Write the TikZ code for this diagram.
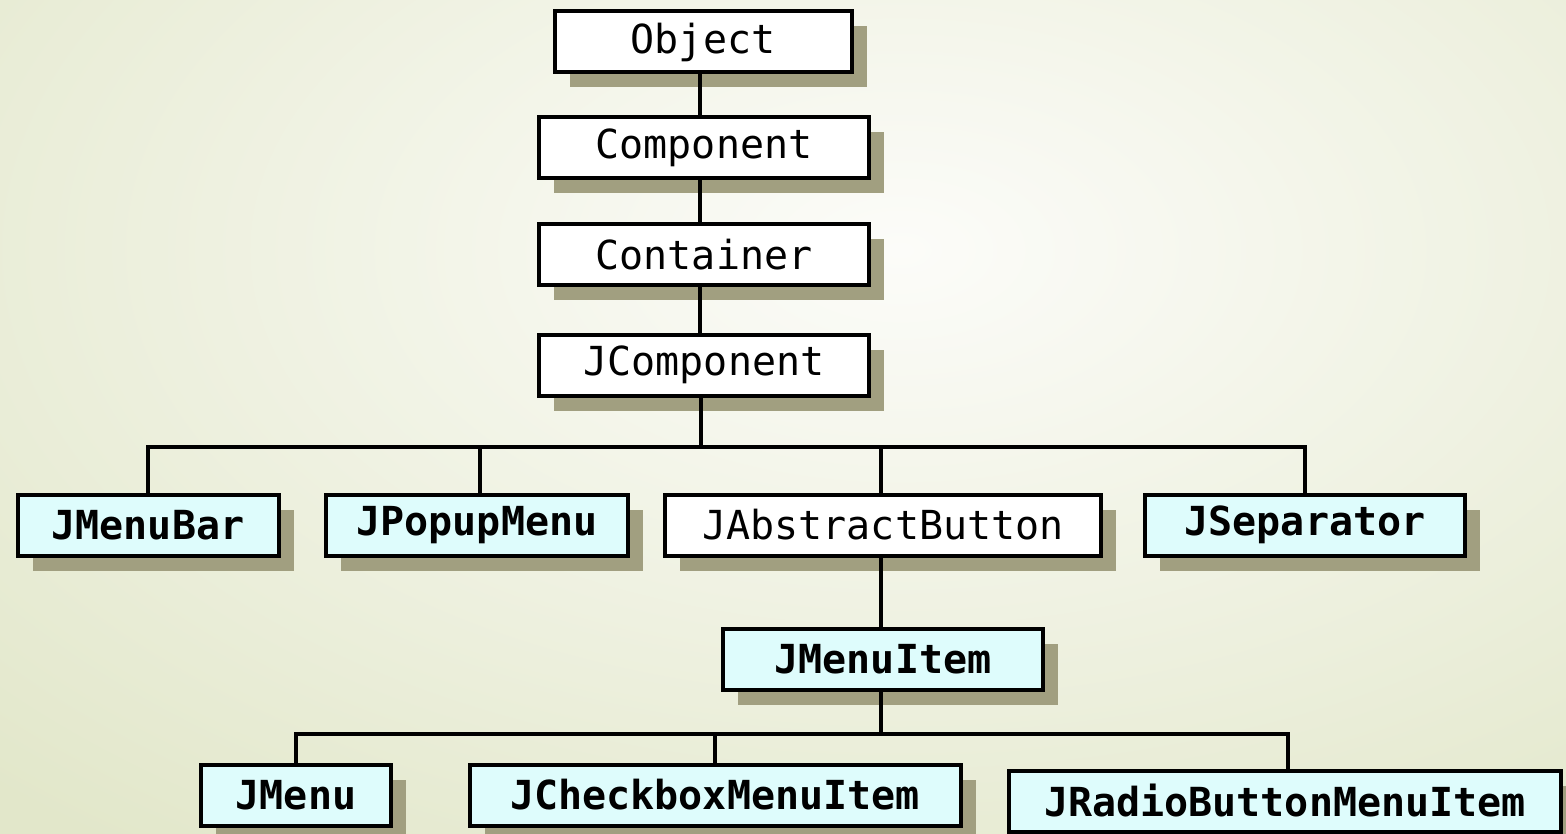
\documentclass[tikz,border=0pt]{standalone}
\usepackage{fontspec}
\setmonofont{DejaVu Sans Mono}
\usetikzlibrary{shadows}
\definecolor{shadowc}{RGB}{161,159,128}
\definecolor{swingfill}{RGB}{222,252,252}
\definecolor{bgout}{RGB}{226,231,202}
\definecolor{bgin}{RGB}{252,252,249}

\begin{document}
\begin{tikzpicture}[x=1pt,y=-1pt,
    cls/.style={draw, line width=4pt, fill=white, inner sep=0pt, minimum height=61pt,
      font=\fontsize{40}{48}\selectfont\ttfamily,
      drop shadow={shadow xshift=15pt, shadow yshift=-15pt, fill=shadowc, opacity=1}},
    swing/.style={cls, fill=swingfill, font=\fontsize{40}{48}\selectfont\ttfamily\bfseries},
    link/.style={line width=4pt, line join=miter}]
    \useasboundingbox (0,0) rectangle (1566,834);
    \begin{scope}
      \clip (0,0) rectangle (1566,834);
      \shade[inner color=bgin, outer color=bgout] (-400,-500) rectangle (2200,1000);
    \end{scope}
    % AWT part
    \node[cls, minimum width=297pt] (obj) at (703,42) {Object};
    \node[cls, minimum width=330pt] (comp) at (704,148) {Component};
    \node[cls, minimum width=330pt] (cont) at (704,255) {Container};
    \node[cls, minimum width=330pt] (jcomp) at (704,365) {JComponent};
    % swing menus
    \node[swing, minimum width=261pt] (bar) at (148,525) {JMenuBar};
    \node[swing, minimum width=302pt] (popup) at (477,525) {JPopupMenu};
    \node[cls, minimum width=436pt] (abstract) at (883,525) {JAbstractButton};
    \node[swing, minimum width=320pt] (sep) at (1305,525) {JSeparator};
    \node[swing, minimum width=320pt] (item) at (883,659) {JMenuItem};
    \node[swing, minimum width=190pt] (menu) at (296,795) {JMenu};
    \node[swing, minimum width=491pt] (check) at (715,795) {JCheckboxMenuItem};
    \node[swing, minimum width=552pt] (radio) at (1285,801) {JRadioButtonMenuItem};
    \coordinate (busA) at (701,447);
    \coordinate (busB) at (881,734);
    \draw[link] ([xshift=-3pt]obj.south) -- ([xshift=-4pt]comp.north);
    \draw[link] ([xshift=-4pt]comp.south) -- ([xshift=-4pt]cont.north);
    \draw[link] ([xshift=-4pt]cont.south) -- ([xshift=-4pt]jcomp.north);
    \draw[link] ([xshift=-3pt]jcomp.south) -- (busA);
    \draw[link] (bar.north) |- (busA) -| (sep.north);
    \draw[link] ([xshift=3pt]popup.north) -- ([xshift=3pt]popup.north |- busA);
    \draw[link] ([xshift=-2pt]abstract.north) -- ([xshift=-2pt]abstract.north |- busA);
    \draw[link] ([xshift=-2pt]abstract.south) -- ([xshift=-2pt]item.north);
    \draw[link] ([xshift=-2pt]item.south) -- (busB);
    \draw[link] (menu.north) |- (busB) -| ([xshift=3pt]radio.north);
    \draw[link] (check.north) -- (check.north |- busB);
\end{tikzpicture}
\end{document}
